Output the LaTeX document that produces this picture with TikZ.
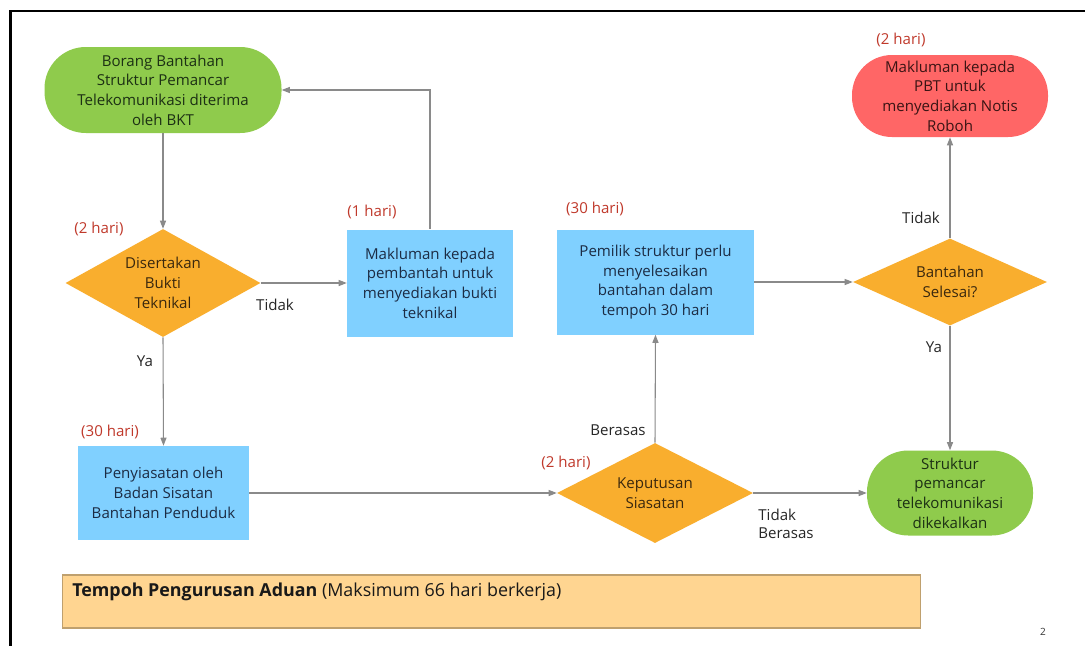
\documentclass[tikz,border=0pt]{standalone}
\usepackage{fontspec}
\setmainfont{Open Sans}
\usetikzlibrary{shapes.geometric,arrows.meta}
\definecolor{cgreen}{HTML}{8FCB4C}
\definecolor{cred}{HTML}{FF6666}
\definecolor{corange}{HTML}{F9AE2E}
\definecolor{cblue}{HTML}{80D0FF}
\definecolor{cbot}{HTML}{FFD591}
\definecolor{cbotline}{HTML}{BFA06E}
\definecolor{cday}{HTML}{C0392B}
\definecolor{cline}{HTML}{8A8A8A}
\definecolor{tgreen}{HTML}{1C3014}
\definecolor{tblue}{HTML}{1C2C44}
\definecolor{torange}{HTML}{3A280E}
\definecolor{tred}{HTML}{3A1414}
\tikzset{
  base/.style={font=\fontsize{11.3}{14.8}\selectfont, align=center, inner sep=0pt},
  term/.style={base, fill=#1, text=tgreen, rounded corners=31pt},
  procbox/.style={base, fill=cblue, text=tblue},
  decide/.style={base, diamond, fill=corange, text=torange, aspect=1.9},
  daylbl/.style={font=\fontsize{11.3}{13}\selectfont, text=cday, inner sep=0pt},
  lbl/.style={font=\fontsize{11.3}{13}\selectfont, text=black!85, inner sep=0pt, align=left},
  arr/.style={draw=cline, line width=0.8pt, -{Triangle[length=6pt,width=4.5pt]}},
}
\begin{document}
\begin{tikzpicture}[x=0.75pt,y=-0.75pt]
\useasboundingbox (0,0) rectangle (1085,646);
\fill[white] (0,0) rectangle (1085,646);
% frame
\draw[line width=2.2pt] (10.5,646) -- (10.5,11) -- (1085,11);

% nodes
\node[term=cgreen, minimum width=237*0.75pt, minimum height=86*0.75pt] (g1) at (163,90)
  {Borang Bantahan\\Struktur Pemancar\\Telekomunikasi diterima\\oleh BKT};
\node[decide, minimum width=195*0.75pt, minimum height=108*0.75pt] (d1) at (163,283)
  {Disertakan\\Bukti\\Teknikal};
\node[procbox, minimum width=166*0.75pt, minimum height=107*0.75pt] (b1) at (430,283)
  {Makluman kepada\\pembantah untuk\\menyediakan bukti\\teknikal};
\node[procbox, minimum width=171*0.75pt, minimum height=94*0.75pt] (b2) at (163.5,493)
  {Penyiasatan oleh\\Badan Sisatan\\Bantahan Penduduk};
\node[decide, minimum width=196*0.75pt, minimum height=100*0.75pt] (d2) at (655,493)
  {Keputusan\\Siasatan};
\node[procbox, minimum width=197*0.75pt, minimum height=105*0.75pt] (b3) at (655.5,282)
  {Pemilik struktur perlu\\menyelesaikan\\bantahan dalam\\tempoh 30 hari};
\node[decide, minimum width=194*0.75pt, minimum height=87*0.75pt] (d3) at (950,282)
  {Bantahan\\Selesai?};
\node[term=cred, text=tred, minimum width=196*0.75pt, minimum height=82*0.75pt, rounded corners=30pt] (r1) at (950,96)
  {Makluman kepada\\PBT untuk\\menyediakan Notis\\Roboh};
\node[term=cgreen, minimum width=166*0.75pt, minimum height=85*0.75pt, rounded corners=31pt] (g2) at (950,493)
  {Struktur\\pemancar\\telekomunikasi\\dikekalkan};
\node[draw=cbotline, line width=1.3pt, fill=cbot, minimum width=858*0.75pt, minimum height=53*0.75pt, inner sep=0pt] (bot) at (491.5,601.5) {};
\node[anchor=west, inner sep=0pt, font=\fontsize{13.4}{15}\selectfont, text=black!90] (botlbl) at (72,592)
  {\textbf{Tempoh Pengurusan Aduan} (Maksimum 66 hari berkerja)};

% labels
\node[daylbl] (t1) at (99,229) {(2 hari)};
\node[daylbl] (t2) at (372,212) {(1 hari)};
\node[daylbl] (t3) at (110,432) {(30 hari)};
\node[daylbl] (t4) at (566,463) {(2 hari)};
\node[daylbl] (t5) at (595,209) {(30 hari)};
\node[daylbl] (t6) at (901,40) {(2 hari)};
\node[lbl] (l1) at (275,305) {Tidak};
\node[lbl] (l2) at (145,361) {Ya};
\node[lbl] (l3) at (618,430) {Berasas};
\node[lbl] (l4) at (921,218) {Tidak};
\node[lbl] (l5) at (934,347) {Ya};
\node[lbl, font=\fontsize{11.3}{13.8}\selectfont] (l6) at (786,524) {Tidak\\Berasas};
\node[inner sep=0pt, font=\fontsize{7.5}{9}\selectfont, text=black!80] (pg) at (1043,632) {2};

% connectors
\draw[arr] (g1.south) -- (d1.north);
\draw[arr] (d1.east) -- (b1.west);
\draw[arr] (b1.north) |- (g1.east);
\draw[arr] (d1.south) -- (b2.north);
\draw[arr] (b2.east) -- (d2.west);
\draw[arr] (d2.north) -- (b3.south);
\draw[arr] (b3.east) -- (d3.west);
\draw[arr] (d3.north) -- (r1.south);
\draw[arr] (d3.south) -- (g2.north);
\draw[arr] (d2.east) -- (g2.west);
\end{tikzpicture}
\end{document}
